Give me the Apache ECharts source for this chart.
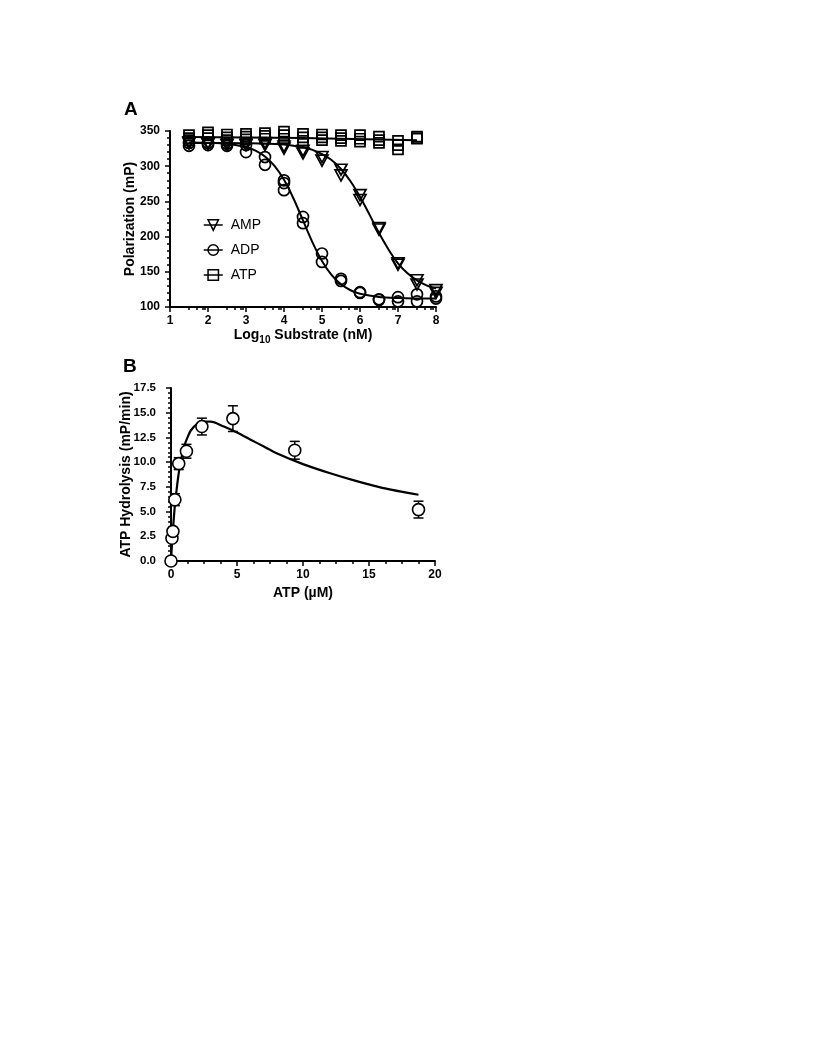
<!DOCTYPE html>
<html><head><meta charset="utf-8">
<script src="https://cdn.jsdelivr.net/npm/echarts@6/dist/echarts.min.js"></script>
<style>html,body{margin:0;padding:0;background:#fff}#c{width:816px;height:1056px}</style>
</head><body><div id="c"></div>
<script>
const FONT = '"Liberation Sans", Arial, Helvetica, sans-serif';

// ---------- Panel A data ----------
const xA = [1.5, 2, 2.5, 3, 3.5, 4, 4.5, 5, 5.5, 6, 6.5, 7, 7.5, 8];
const ampReps = [[334, 332], [333, 331], [333, 330], [333, 330], [333, 330], [328, 325], [322, 318], [313, 308], [295, 287], [259, 252], [212, 210], [162, 160], [138, 132], [124, 120]];
const adpReps = [[333, 329], [333, 330], [332, 329], [330, 320], [313, 302], [280, 276, 266], [228, 219], [176, 164], [140, 137], [121, 120], [111, 110], [114, 108], [118, 108], [115, 112]];
const xATP = [1.5, 2, 2.5, 3, 3.5, 4, 4.5, 5, 5.5, 6, 6.5, 7, 7.5];
const atpReps = [[344, 340, 337], [348, 344, 340], [345, 341, 337], [346, 342, 338], [347, 343, 339], [349, 344, 339], [346, 341, 336], [345, 341, 337], [344, 340, 336], [344, 339, 335], [342, 337, 333], [336, 330, 324], [342, 340, 339]];

const fitAmpX = [1.5, 2, 2.5, 3, 3.5, 4, 4.25, 4.5, 4.75, 5, 5.25, 5.5, 5.75, 6, 6.25, 6.5, 6.75, 7, 7.25, 7.5, 7.75, 8];
const fitAmpY = [333, 333, 333, 332.6, 332.1, 330.7, 329.2, 327, 323.2, 317, 308.7, 296, 278.6, 256.5, 231.2, 205, 181.8, 162, 147.8, 137.7, 130.8, 126.4];
const fitAdpX = [1.5, 2, 2.5, 3, 3.25, 3.5, 3.75, 4, 4.25, 4.5, 4.75, 5, 5.25, 5.5, 5.75, 6, 6.5, 7, 7.5, 8];
const fitAdpY = [333.8, 333.3, 331.8, 327.2, 322.2, 313.8, 300.4, 280.7, 254.1, 223, 191.9, 165.3, 145.5, 132.2, 123.8, 118.8, 114.2, 112.7, 112.2, 112.1];
const fitAtpX = [1.5, 4.5, 7.5];
const fitAtpY = [341.5, 340, 337];

const xMinorTicksA = [1.5, 1.7, 1.85, 1.92, 2.5, 2.7, 2.85, 2.92, 3.5, 3.7, 3.85, 3.92, 4.5, 4.7, 4.85, 4.92, 5.5, 5.7, 5.85, 5.92, 6.5, 6.7, 6.85, 6.92, 7.5, 7.7, 7.85, 7.92];

// ---------- Panel B data ----------
const xB = [0, 0.073, 0.146, 0.293, 0.586, 1.17, 2.34, 4.69, 9.375, 18.75];
const yB = [0, 2.3, 3.0, 6.2, 9.85, 11.1, 13.6, 14.4, 11.2, 5.2];
const errB = [0, 0.2, 0.3, 0.6, 0.6, 0.7, 0.85, 1.3, 0.9, 0.85];
const fitBX = [0, 0.1, 0.2, 0.3, 0.45, 0.6, 0.8, 1, 1.25, 1.5, 2, 2.5, 3, 4, 5, 6, 7, 8, 10, 12, 14, 16, 18.75];
const fitBY = [0, 2.25, 4.1, 5.7, 7.5, 9.0, 10.5, 11.6, 12.5, 13.2, 13.9, 14.1, 14.1, 13.6, 13.0, 12.3, 11.6, 10.9, 9.8, 8.9, 8.1, 7.4, 6.7];

// ---------- build ----------
function reps(xs, rs) { const out = []; xs.forEach((x, i) => rs[i].forEach(v => out.push([x, v]))); return out; }
function pairs(xs, ys) { return xs.map((x, i) => [x, ys[i]]); }

const TRI = 'path://M0,0L10,0L5,9Z';
const blk = '#000';
const labelStyle = { fontFamily: FONT, fontSize: 12, fontWeight: 'bold', color: blk };
const labelStyleB = { fontFamily: FONT, fontSize: 11.5, fontWeight: 'bold', color: blk };
const nameStyle = { fontFamily: FONT, fontSize: 14, fontWeight: 'bold', color: blk };
function axisBase(extra) {
  return Object.assign({
    type: 'value',
    nameMoveOverlap: false,
    axisLine: { show: true, onZero: false, lineStyle: { color: blk, width: 2 } },
    axisTick: { show: true, length: 5, lineStyle: { color: blk, width: 1.5 } },
    axisLabel: labelStyle,
    splitLine: { show: false },
    minorSplitLine: { show: false }
  }, extra);
}

const hollowA = { color: 'transparent', borderColor: blk, borderWidth: 1.7, opacity: 1 };
const fitLine = { color: blk, width: 2 };

const option = {
  animation: false,
  backgroundColor: '#fff',
  grid: [
    { left: 170, top: 131, width: 266, height: 176 },
    { left: 171, top: 388, width: 264, height: 173 }
  ],
  xAxis: [
    axisBase({ gridIndex: 0, min: 1, max: 8, interval: 1,
      axisLabel: Object.assign({ margin: 8 }, labelStyle),
      name: '{a|Log}{s|10}{a| Substrate (nM)}', nameLocation: 'middle', nameGap: 19,
      nameTextStyle: { rich: {
        a: Object.assign({ lineHeight: 19 }, nameStyle),
        s: { fontFamily: FONT, fontSize: 10, fontWeight: 'bold', color: blk, lineHeight: 10, verticalAlign: 'bottom' }
      } } }),
    { type: 'value', gridIndex: 0, min: 1, max: 8, position: 'bottom',
      axisLine: { show: false }, axisLabel: { show: false }, splitLine: { show: false },
      axisTick: { show: true, length: 3, customValues: xMinorTicksA, lineStyle: { color: blk, width: 1.5 } } },
    axisBase({ gridIndex: 1, min: 0, max: 20, interval: 5,
      axisLabel: Object.assign({ margin: 8 }, labelStyle),
      minorTick: { show: true, splitNumber: 4, length: 3, lineStyle: { color: blk, width: 1.5 } },
      name: 'ATP (µM)', nameLocation: 'middle', nameGap: 25, nameTextStyle: nameStyle })
  ],
  yAxis: [
    axisBase({ gridIndex: 0, min: 100, max: 350, interval: 50,
      axisLabel: Object.assign({ margin: 10 }, labelStyle),
      minorTick: { show: true, splitNumber: 5, length: 3, lineStyle: { color: blk, width: 1.5 } },
      name: 'Polarization (mP)', nameLocation: 'middle', nameGap: 33, nameTextStyle: nameStyle }),
    axisBase({ gridIndex: 1, min: 0, max: 17.5, interval: 2.5,
      axisLabel: Object.assign({ margin: 15, formatter: v => v.toFixed(1) }, labelStyleB),
      minorTick: { show: true, splitNumber: 5, length: 3, lineStyle: { color: blk, width: 1.5 } },
      name: 'ATP Hydrolysis (mP/min)', nameLocation: 'middle', nameGap: 38, nameTextStyle: nameStyle })
  ],
  legend: {
    data: ['AMP', 'ADP', 'ATP'], orient: 'vertical', left: 198, top: 213,
    itemWidth: 19, itemHeight: 13, itemGap: 11, selectedMode: false,
    textStyle: { fontFamily: FONT, fontSize: 14, color: blk, padding: [0, 0, 0, 3] },
    itemStyle: { color: 'transparent', borderColor: blk, borderWidth: 1.5 },
    lineStyle: { color: blk, width: 1.5 }
  },
  graphic: [
    { type: 'text', left: 124, top: 100, style: { text: 'A', font: 'bold 19px ' + FONT, fill: blk } },
    { type: 'text', left: 123, top: 357, style: { text: 'B', font: 'bold 19px ' + FONT, fill: blk } }
  ],
  series: [
    { name: 'AMP', type: 'line', xAxisIndex: 0, yAxisIndex: 0, data: pairs(fitAmpX, fitAmpY), smooth: 0.3,
      symbol: TRI, showSymbol: false, lineStyle: fitLine, itemStyle: hollowA, z: 2 },
    { name: 'ADP', type: 'line', xAxisIndex: 0, yAxisIndex: 0, data: pairs(fitAdpX, fitAdpY), smooth: 0.3,
      symbol: 'circle', showSymbol: false, lineStyle: fitLine, itemStyle: hollowA, z: 2 },
    { name: 'ATP', type: 'line', xAxisIndex: 0, yAxisIndex: 0, data: pairs(fitAtpX, fitAtpY), smooth: true,
      symbol: 'rect', showSymbol: false, lineStyle: fitLine, itemStyle: hollowA, z: 2 },
    { name: 'ATP data', type: 'scatter', xAxisIndex: 0, yAxisIndex: 0, data: reps(xATP, atpReps),
      symbol: 'rect', symbolSize: [10, 10], itemStyle: hollowA, z: 3 },
    { name: 'AMP data', type: 'scatter', xAxisIndex: 0, yAxisIndex: 0, data: reps(xA, ampReps),
      symbol: TRI, symbolSize: [12, 11], itemStyle: hollowA, z: 3 },
    { name: 'ADP data', type: 'scatter', xAxisIndex: 0, yAxisIndex: 0, data: reps(xA, adpReps),
      symbol: 'circle', symbolSize: 11, itemStyle: hollowA, z: 3 },
    { name: 'err', type: 'custom', xAxisIndex: 2, yAxisIndex: 1,
      data: xB.map((x, i) => [x, yB[i], errB[i]]),
      encode: { x: 0, y: 1 }, z: 2,
      renderItem: function (params, api) {
        const x = api.value(0), y = api.value(1), e = api.value(2);
        if (!e) return null;
        const t = api.coord([x, y + e]), b = api.coord([x, y - e]);
        const hw = 5, st = { stroke: blk, lineWidth: 1.5 };
        return { type: 'group', children: [
          { type: 'line', shape: { x1: t[0], y1: t[1], x2: b[0], y2: b[1] }, style: st },
          { type: 'line', shape: { x1: t[0] - hw, y1: t[1], x2: t[0] + hw, y2: t[1] }, style: st },
          { type: 'line', shape: { x1: b[0] - hw, y1: b[1], x2: b[0] + hw, y2: b[1] }, style: st }
        ] };
      } },
    { name: 'fitB', type: 'line', xAxisIndex: 2, yAxisIndex: 1, data: pairs(fitBX, fitBY), smooth: 0.3,
      symbol: 'none', lineStyle: { color: blk, width: 2.2 }, z: 3 },
    { name: 'dataB', type: 'scatter', xAxisIndex: 2, yAxisIndex: 1, data: pairs(xB, yB),
      symbol: 'circle', symbolSize: 12, clip: false,
      itemStyle: { color: '#fff', borderColor: blk, borderWidth: 1.6, opacity: 1 }, z: 4 }
  ]
};

const chart = echarts.init(document.getElementById('c'), null, { renderer: 'canvas' });
chart.setOption(option);
</script>
</body></html>
